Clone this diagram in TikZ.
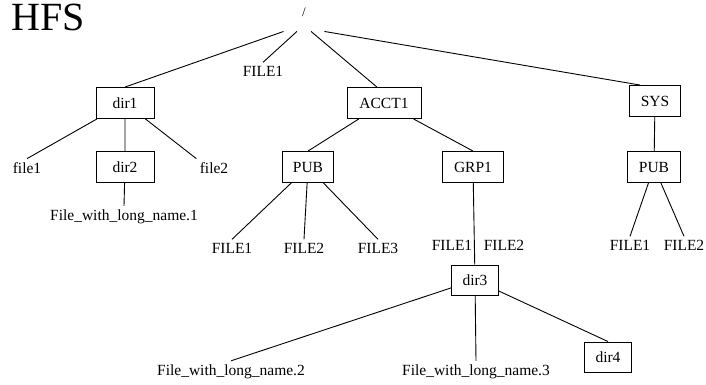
\documentclass[tikz,border=0pt]{standalone}
\usepackage{fontspec}
\setmainfont{Liberation Serif}
\begin{document}
\begin{tikzpicture}[x=1pt,y=-1pt,line width=0.9pt,
    every node/.style={font=\fontsize{15.5}{18}\selectfont},
    box/.style={draw,minimum width=#1,minimum height=31pt,inner sep=0pt},
    file/.style={anchor=base,inner sep=3pt}]
    \useasboundingbox (0,0) rectangle (706,384);
    \draw (11,30) node[anchor=base west,inner sep=0pt,font=\fontsize{40}{44}\selectfont](title){HFS};
    \draw (304,16) node[anchor=base,inner sep=0pt,minimum width=40pt,text depth=15pt,font=\fontsize{13}{15}\selectfont](root){/};
    \draw (125,103) node[box=58pt](dir1){dir1} (263,76) node[file](rootfile){FILE1}
        (384,103) node[box=74pt](acct){ACCT1} (655,101) node[box=51pt](sys){SYS};
    \draw (root.south west) -- (dir1.north) (root.240) -- (rootfile.north)
        (root.300) -- (acct.114) (root.south east) -- (sys.133);
    \draw (27,173) node[file](file1){file1} (125,167) node[box=58pt](dir2){dir2}
        (214,173) node[file](file2){file2} (124,220) node[file](long1){File\_with\_long\_name.1};
    \draw (dir1) -- (file1.north) (dir1) -- (dir2) (dir1) -- (file2.north west) (dir2) -- (long1.north);
    \draw (308,167) node[box=51pt](pub){PUB} (473,167) node[box=61pt](grp){GRP1};
    \draw (acct) -- (pub.north) (acct) -- (grp.north);
    \draw (232,253) node[file](pubf1){FILE1} (304,253) node[file](pubf2){FILE2} (378,253) node[file](pubf3){FILE3};
    \draw (pub) -- (pubf1.north) (pub) -- (pubf2.north) (pub) -- (pubf3.north);
    \draw (452,250) node[file](grpf1){FILE1} (504,250) node[file](grpf2){FILE2}
        (475,280) node[box=47pt,minimum height=30pt](dir3){dir3};
    \draw (grp) -- (dir3);
    \draw (231,375) node[file](long2){File\_with\_long\_name.2} (476,375) node[file](long3){File\_with\_long\_name.3}
        (608,357) node[box=47pt,minimum height=30pt](dir4){dir4};
    \draw (dir3) -- (long2.north) (dir3) -- (long3.north) (dir3) -- (dir4.north);
    \draw (654,167) node[box=53pt](syspub){PUB} (630,250) node[file](sysf1){FILE1} (684,250) node[file](sysf2){FILE2};
    \draw (sys) -- (syspub) (syspub) -- (sysf1.north) (syspub) -- (sysf2.north);
\end{tikzpicture}
\end{document}
